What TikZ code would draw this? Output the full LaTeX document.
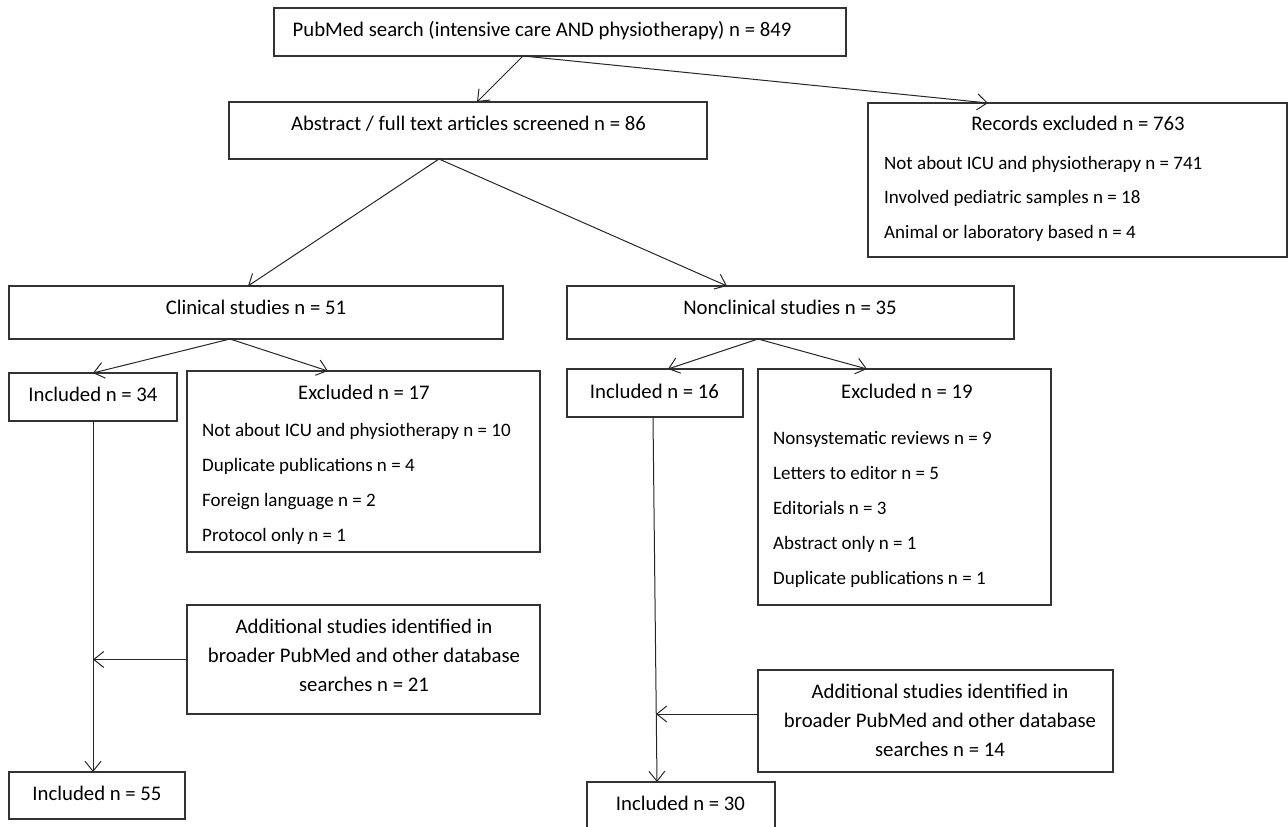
\documentclass[tikz,border=0pt]{standalone}
\usepackage{fontspec}
\setmainfont{Carlito}
\usetikzlibrary{arrows.meta, calc}

\tikzset{
	box/.style={draw=black!80, line width=1.2pt, inner sep=0pt, outer sep=0pt},
	txt/.style={inner sep=0pt, text=black, font=\fontsize{20.75}{25}\selectfont},
	item/.style={txt, anchor=base west, font=\fontsize{19}{23}\selectfont},
	arr/.style={draw=black!85, line width=1pt, -{Straight Barb[length=10pt, width=16pt]}},
}

\begin{document}
\begin{tikzpicture}[x=1pt, y=-1pt]
	\useasboundingbox (0,0) rectangle (1288,827);
	% boxes
	\node [box, minimum width=572, minimum height=48] (search) at (560,32) {};
	\node [box, minimum width=478, minimum height=57] (screened) at (468,130.5) {};
	\node [box, minimum width=419, minimum height=154] (records) at (1077.5,180) {};
	\node [box, minimum width=494, minimum height=53] (clinical) at (256,312.5) {};
	\node [box, minimum width=447, minimum height=53] (nonclinical) at (790.5,312.5) {};
	\node [box, minimum width=168, minimum height=48] (incl34) at (93,397) {};
	\node [box, minimum width=353, minimum height=181] (excl17) at (363.5,461.5) {};
	\node [box, minimum width=176, minimum height=48] (incl16) at (655,393) {};
	\node [box, minimum width=293, minimum height=236] (excl19) at (904.5,487) {};
	\node [box, minimum width=353, minimum height=109] (add21) at (363.5,659.5) {};
	\node [box, minimum width=355, minimum height=102] (add14) at (935.5,721) {};
	\node [box, minimum width=176, minimum height=47] (incl55) at (97,795.5) {};
	\node [box, minimum width=188, minimum height=60] (incl30) at (681,812) {};

	% texts
	\node [txt, anchor=base] (search-t) at (542,36) {PubMed search (intensive care AND physiotherapy) n = 849};
	\node [txt, anchor=base] (screened-t) at (468.5,130) {Abstract / full text articles screened n = 86};
	\node [txt, anchor=base] (records-t) at (1078,130) {Records excluded n = 763};
	\node [item] (records-1) at (884,169) {Not about ICU and physiotherapy n = 741};
	\node [item] (records-2) at (884,203) {Involved pediatric samples n = 18};
	\node [item] (records-3) at (884,238) {Animal or laboratory based n = 4};
	\node [txt, anchor=base] (clinical-t) at (256,314) {Clinical studies n = 51};
	\node [txt, anchor=base] (nonclinical-t) at (790,314) {Nonclinical studies n = 35};
	\node [txt, anchor=base] (incl34-t) at (93,401) {Included n = 34};
	\node [txt, anchor=base] (excl17-t) at (364,399) {Excluded n = 17};
	\node [item] (excl17-1) at (202,436) {Not about ICU and physiotherapy n = 10};
	\node [item] (excl17-2) at (202,471) {Duplicate publications n = 4};
	\node [item] (excl17-3) at (202,506) {Foreign language n = 2};
	\node [item] (excl17-4) at (202,541) {Protocol only n = 1};
	\node [txt, anchor=base] (incl16-t) at (654.5,398) {Included n = 16};
	\node [txt, anchor=base] (excl19-t) at (907,398) {Excluded n = 19};
	\node [item] (excl19-1) at (773,444) {Nonsystematic reviews n = 9};
	\node [item] (excl19-2) at (773,479) {Letters to editor n = 5};
	\node [item] (excl19-3) at (773,514) {Editorials n = 3};
	\node [item] (excl19-4) at (773,549) {Abstract only n = 1};
	\node [item] (excl19-5) at (773,584) {Duplicate publications n = 1};
	\node [txt, anchor=base] (add21-1) at (364,633) {Additional studies identified in};
	\node [txt, anchor=base] (add21-2) at (364,662) {broader PubMed and other database};
	\node [txt, anchor=base] (add21-3) at (364,691) {searches n = 21};
	\node [txt, anchor=base] (add14-1) at (940,698) {Additional studies identified in};
	\node [txt, anchor=base] (add14-2) at (940,727) {broader PubMed and other database};
	\node [txt, anchor=base] (add14-3) at (940,756) {searches n = 14};
	\node [txt, anchor=base] (incl55-t) at (97,800) {Included n = 55};
	\node [txt, anchor=base] (incl30-t) at (680.5,810) {Included n = 30};

	% connectors
	\coordinate (join30) at (656,714);
	\draw [arr] (search.south -| 523,0) -- (screened.north -| 477,0);
	\draw [arr] (search.south -| 523,0) -- (records.north -| 988,0);
	\draw [arr] (screened.south -| 439,0) -- (clinical.north -| 248,0);
	\draw [arr] (screened.south -| 439,0) -- (nonclinical.north -| 727,0);
	\draw [arr] (clinical.south -| 230,0) -- (incl34.north);
	\draw [arr] (clinical.south -| 230,0) -- (excl17.north -| 328,0);
	\draw [arr] (nonclinical.south -| 758,0) -- (incl16.north -| 668,0);
	\draw [arr] (nonclinical.south -| 758,0) -- (excl19.north -| 867,0);
	\draw [arr] (incl34.south) -- (incl55.north -| incl34.south);
	\draw [arr] (add21.west) -- (add21.west -| incl34.south);
	\draw [arr] (incl16.south -| 653,0) -- (incl30.north -| 657,0);
	\draw [arr] (add14.west |- join30) -- (join30);
\end{tikzpicture}
\end{document}
